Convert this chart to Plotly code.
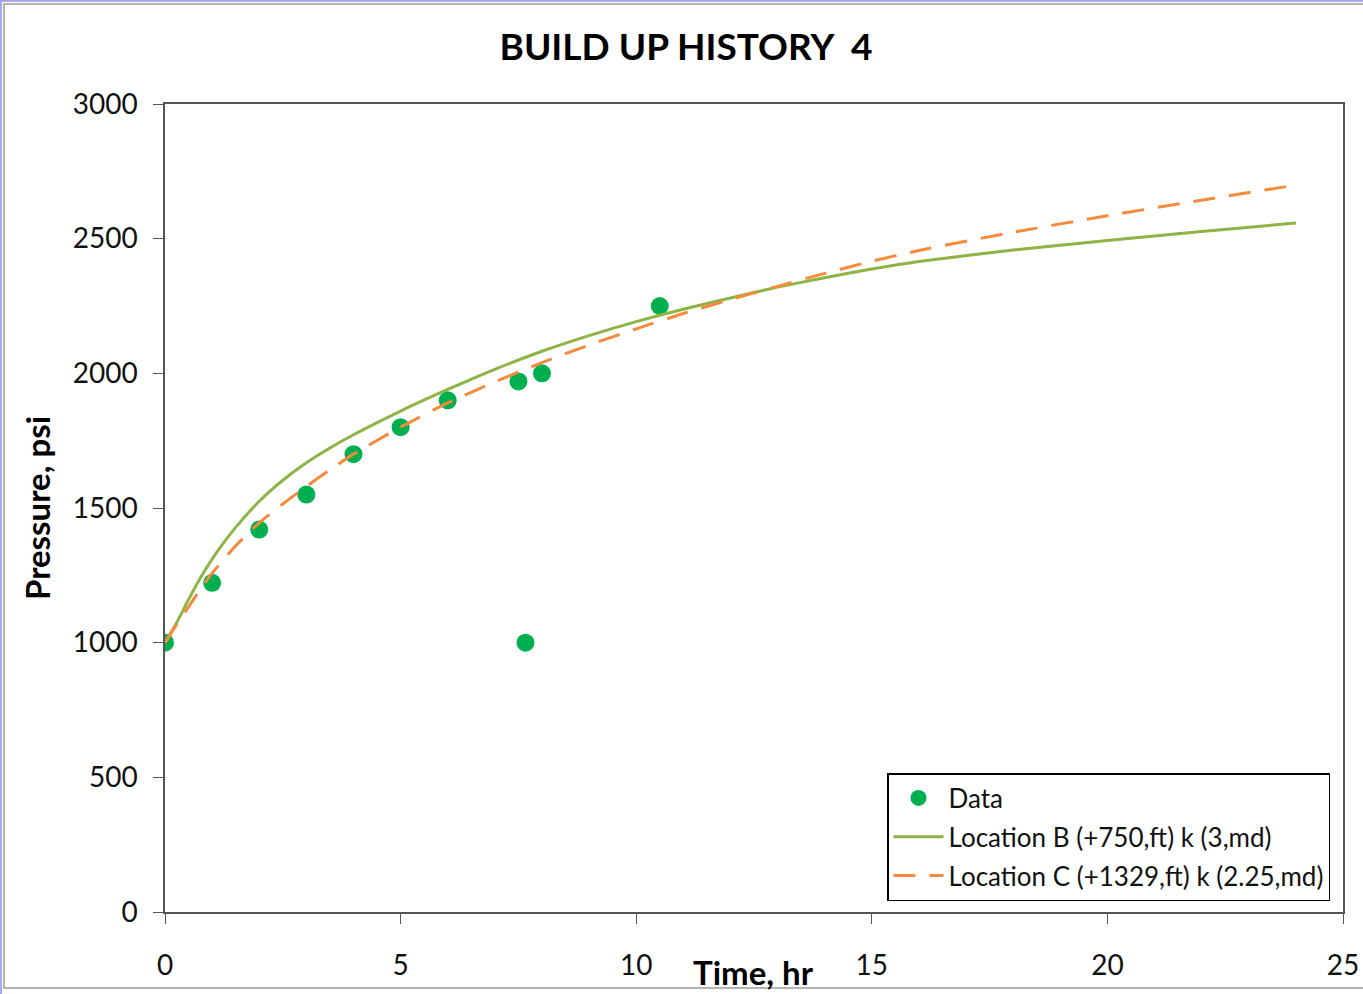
import plotly.graph_objects as go

# ---- data ----
data_t = [0, 1, 2, 3, 4, 5, 6, 7.5, 8, 10.5, 7.65]
data_p = [1000, 1222, 1420, 1550, 1700, 1800, 1900, 1970, 2000, 2250, 1000]

locB_t = [0, 0.25, 0.5, 0.75, 1, 1.25, 1.5, 2, 2.5, 3, 3.5, 4, 5, 6, 7, 8, 9, 10, 11, 12, 13, 14, 15, 16, 18, 20, 22, 24]
locB_p = [1000, 1075, 1160, 1240, 1310, 1372, 1428, 1525, 1603, 1668, 1723, 1772, 1860, 1940, 2015, 2082,
          2140, 2192, 2238, 2280, 2320, 2355, 2387, 2415, 2458, 2493, 2527, 2558]

locC_t = [0, 0.25, 0.5, 0.75, 1, 1.5, 2, 2.5, 3, 3.5, 4, 5, 6, 7, 8, 9, 10, 11, 12, 13, 14, 15, 16, 18, 20, 22, 24]
locC_p = [1000, 1068, 1133, 1198, 1258, 1360, 1445, 1515, 1580, 1642, 1700, 1800, 1890, 1968, 2040, 2105,
          2165, 2222, 2274, 2323, 2371, 2416, 2456, 2524, 2585, 2643, 2699]

x_ticks = [0, 5, 10, 15, 20, 25]
y_ticks = [0, 500, 1000, 1500, 2000, 2500, 3000]

FONT = "Lato"
W, H = 1363, 994
L, R, T, B = 165, 20, 104, 82
PW, PH = W - L - R, H - T - B

fig = go.Figure()
fig.add_trace(go.Scatter(x=data_t, y=data_p, mode="markers", name="Data", legendgroup="a",
                         marker=dict(color="#00B050", size=18)))
fig.add_trace(go.Scatter(x=locB_t, y=locB_p, mode="lines", name="Location B (+750,ft) k (3,md)",
                         legendgroup="b",
                         line=dict(color="#8DB444", width=3, shape="spline", smoothing=0.6)))
fig.add_trace(go.Scatter(x=locC_t, y=locC_p, mode="lines", name="Location C (+1329,ft) k (2.25,md)",
                         legendgroup="c",
                         line=dict(color="#F58A3C", width=3, dash="22px,14px", shape="spline", smoothing=0.6)))

fig.update_layout(
    width=W, height=H,
    margin=dict(l=L, r=R, t=T, b=B, autoexpand=False),
    paper_bgcolor="white", plot_bgcolor="white",
    font=dict(family=FONT, color="#111111"),
    title=dict(text="<b>BUILD UP HISTORY\u00a0 4</b>", x=686 / W, xanchor="center",
               y=1 - 47 / H, yanchor="middle", yref="container", xref="container",
               font=dict(size=37, family=FONT, color="#000000")),
    showlegend=True,
    legend=dict(x=(1330 - L) / PW, xanchor="right", y=(912 - 901) / PH, yanchor="bottom",
                bordercolor="#000000", borderwidth=1.5, bgcolor="white",
                font=dict(size=26, family=FONT, color="#111111"),
                tracegroupgap=2, itemwidth=50),
    xaxis=dict(range=[0, 25], tickvals=x_ticks, ticktext=[str(v) for v in x_ticks], automargin=False,
               showgrid=False, zeroline=False, showline=True, linecolor="#555555", linewidth=1.5,
               mirror=True, ticks="outside", ticklen=10, tickcolor="#555555",
               tickfont=dict(size=28, family=FONT, color="#111111"), ticklabelstandoff=18),
    yaxis=dict(range=[0, 3000], tickvals=y_ticks, ticktext=[str(v) for v in y_ticks], automargin=False,
               showgrid=False, zeroline=False, showline=True, linecolor="#555555", linewidth=1.5,
               mirror=True, ticks="outside", ticklen=10, tickcolor="#555555",
               tickfont=dict(size=28, family=FONT, color="#111111"), ticklabelstandoff=10),
)

fig.add_annotation(text="<b>Time, hr</b>", xref="paper", yref="paper",
                   x=(753 - L) / PW, y=(912 - 972) / PH, xanchor="center", yanchor="middle",
                   showarrow=False, font=dict(size=33, family=FONT, color="#000000"))
fig.add_annotation(text="<b>Pressure, psi</b>", xref="paper", yref="paper",
                   x=(37 - L) / PW, y=(912 - 508) / PH, xanchor="center", yanchor="middle",
                   textangle=-90, showarrow=False, font=dict(size=33, family=FONT, color="#000000"))

def px2paper_x(px):
    return (px - L) / PW

def px2paper_y(py):
    return (H - B - py) / PH

# outer frame lines
fig.add_shape(type="rect", xref="paper", yref="paper",
              x0=px2paper_x(4), x1=px2paper_x(1370), y0=px2paper_y(988), y1=px2paper_y(4),
              line=dict(color="#9A9A9A", width=1.5), fillcolor="rgba(0,0,0,0)", layer="below")
fig.add_shape(type="line", xref="paper", yref="paper",
              x0=px2paper_x(1), x1=px2paper_x(1), y0=px2paper_y(994), y1=px2paper_y(0),
              line=dict(color="#A8A8E8", width=2))
fig.add_shape(type="line", xref="paper", yref="paper",
              x0=px2paper_x(0), x1=px2paper_x(1363), y0=px2paper_y(1), y1=px2paper_y(1),
              line=dict(color="#A8A8E8", width=2))

fig.write_html("out.html")
